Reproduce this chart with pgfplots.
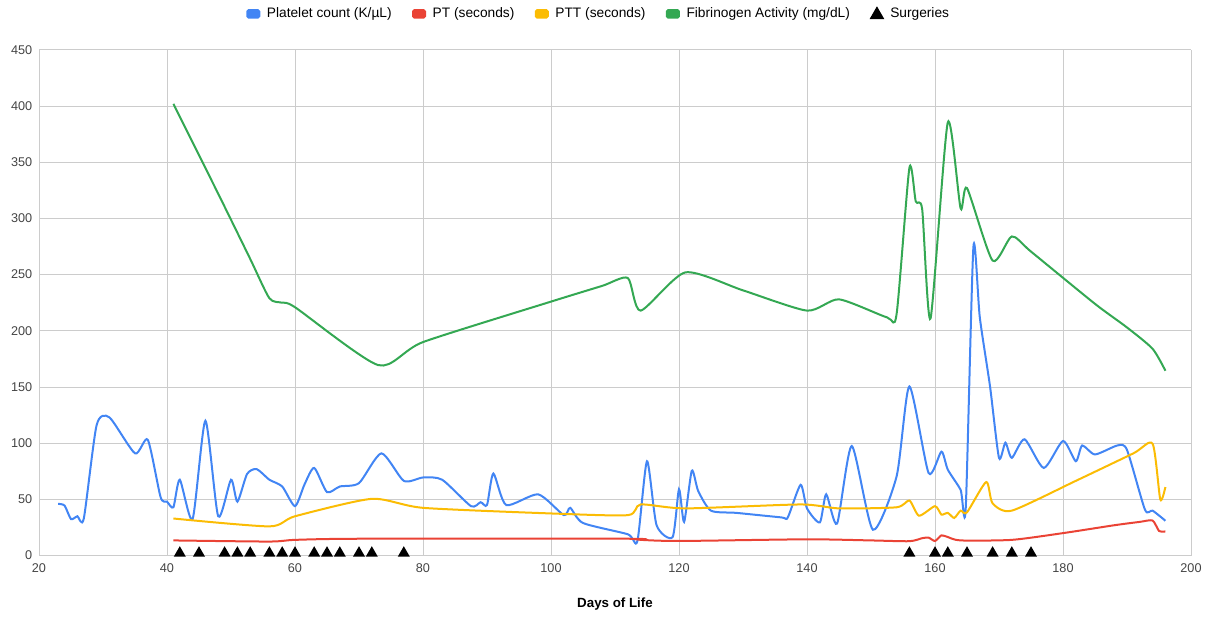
\documentclass[border=0pt]{standalone}
\usepackage{fontspec}
\setmainfont{Liberation Sans}
\usepackage{pgfplots}
\pgfplotsset{compat=1.18}
\definecolor{gblue}{HTML}{4285F4}
\definecolor{gred}{HTML}{EA4335}
\definecolor{gyellow}{HTML}{FBBC04}
\definecolor{ggreen}{HTML}{34A853}
\definecolor{gridgray}{HTML}{CCCCCC}
\definecolor{labelgray}{HTML}{444444}
\definecolor{basegray}{HTML}{333333}
\begin{document}
\begin{tikzpicture}
\path[use as bounding box] (-29.25pt,-46.7pt) rectangle (876.75pt,416.7pt);
\begin{axis}[
  scale only axis, width=864pt, height=379.3pt,
  xmin=20, xmax=200, ymin=0, ymax=450,
  xtick={20,40,...,200}, ytick={0,50,...,450},
  grid=major, major grid style={color=gridgray, line width=0.75pt},
  axis line style={draw=none},
  major tick length=0pt,
  extra y ticks={0}, extra y tick labels={},
  extra y tick style={grid style={color=basegray, line width=0.9pt}},
  tick label style={font=\fontsize{9.5}{11}\selectfont, text=labelgray},
  xticklabel style={yshift=-2.5pt},
  yticklabel style={xshift=-1.5pt},
  /pgf/number format/assume math mode=true,
  xlabel={Days of Life},
  xlabel style={font=\fontsize{10}{12}\selectfont\bfseries, at={(axis description cs:0.5,0)}, anchor=center, yshift=-36.3pt},
  legend columns=5,
  legend cell align=left,
  legend style={draw=none, fill=none, at={(axis description cs:0.5,1)}, anchor=center, xshift=-12pt, yshift=27pt,
    font=\fontsize{10.3}{12}\selectfont,
    /tikz/every odd column/.append style={column sep=3pt},
    /tikz/every even column/.append style={column sep=13.3pt}},
  every axis plot/.append style={line width=1.5pt},
]
\addplot[color=gblue, smooth, tension=0.4, legend image code/.code={\fill[gblue, rounded corners=1pt] (0pt,-2.8pt) rectangle (9pt,2.8pt);}] coordinates {
(23,46)(24,44.5)(25,32.5)(26,35)(27,33)(29,116)(31,123)(35,91)(37,103)(39,52)(40,48)(41,43)(42,67.5)(44,32.5)(46,120)(48,35)(50,67.5)(51,48)(52.5,72.5)(54,77)(56,67.5)(58,61.5)(60,44)(61.5,63.5)(63,78)(65,56.5)(67,61.5)(70,64.5)(73.5,91)(77,66.5)(80,69.5)(83,67.5)(87.5,44)(89,47.5)(90,45)(91,73)(93,45)(98,54.5)(102,36)(103,42.5)(105,29)(112,19)(113.5,13)(115,84)(116.5,27)(119,16.5)(120,59)(120.8,30)(122,75.5)(123,57.5)(125,40)(129,38)(136,34)(137,34)(139,63)(140,42)(142,29.5)(143,54.5)(144.7,28.5)(147,97.5)(150.3,23)(154,70.5)(156,150.5)(159,73.5)(161,92.5)(162,76.5)(164,58.5)(164.8,42)(166,274.5)(167,212)(168.6,150.5)(170,87)(171,100.5)(172,87)(174,103.5)(177,78)(180,102)(182,84)(183,98)(185,90)(188.5,98)(190,94)(192.8,41)(194,40)(196,31)
};
\addlegendentry{Platelet count (K/µL)}
\addplot[color=gred, smooth, tension=0.4, legend image code/.code={\fill[gred, rounded corners=1pt] (0pt,-2.8pt) rectangle (9pt,2.8pt);}] coordinates {
(41,13.5)(56,12.5)(60,14)(70,15)(112,15)(114,14)(120,13)(140,14.5)(150,13.5)(156,12.8)(158,15.5)(159,16)(160,13)(161,18)(162,16.5)(164,13.5)(172,14)(180,20)(188,27)(192,30)(194,31.2)(195,22)(196,21.5)
};
\addlegendentry{PT (seconds)}
\addplot[color=gyellow, smooth, tension=0.4, legend image code/.code={\fill[gyellow, rounded corners=1pt] (0pt,-2.8pt) rectangle (9pt,2.8pt);}] coordinates {
(41,33)(56,26)(60,35)(72,50.5)(80,42.5)(100,37.5)(112,36)(114,45.5)(121,42)(139,45.5)(145,42)(154,43)(156,49)(157.5,35.5)(160,44)(161,36.5)(162,38)(163,33.5)(164,40)(165,38.5)(168,65.5)(169,46.5)(172,40)(182,66.5)(191,91)(194,99.5)(195.2,50)(196,61)
};
\addlegendentry{PTT (seconds)}
\addplot[color=ggreen, smooth, tension=0.4, legend image code/.code={\fill[ggreen, rounded corners=1pt] (0pt,-2.8pt) rectangle (9pt,2.8pt);}] coordinates {
(41,402)(48,322)(53,264)(56,229)(58,225)(60,221)(73,169.5)(80,190)(100,226)(108,240)(112,247)(114,218)(121,252)(130,236)(140,218)(145,228)(152.5,212)(154,215)(156,345)(157,315)(158,308)(159.3,211)(162,385.5)(164,309)(165,327)(169,262.5)(172,284)(175,270.5)(185,224)(190,203)(194,184)(196,164.5)
};
\addlegendentry{Fibrinogen Activity (mg/dL)}
\addplot[only marks, mark=triangle*, mark size=3.7pt, color=black, mark options={yshift=1.85pt},
  legend image code/.code={\fill[black] (0pt,-3.2pt) -- (8.5pt,-3.2pt) -- (4.25pt,4.2pt) -- cycle;}] coordinates {
(42,0)(45,0)(49,0)(51,0)(53,0)(56,0)(58,0)(60,0)(63,0)(65,0)(67,0)(70,0)(72,0)(77,0)(156,0)(160,0)(162,0)(165,0)(169,0)(172,0)(175,0)
};
\addlegendentry{Surgeries}
\end{axis}
\end{tikzpicture}
\end{document}
